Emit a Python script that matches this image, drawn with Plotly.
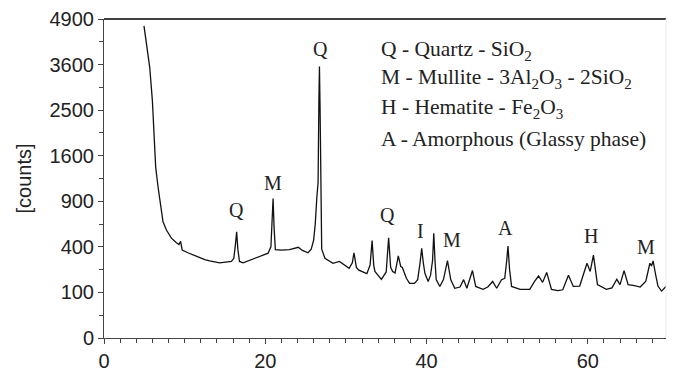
import numpy as np
import plotly.graph_objects as go

# 2-theta (degrees) and intensity (counts)
two_theta = [4.96, 5.3, 5.67, 6.0, 6.17, 6.41, 6.7, 7.03, 7.32, 7.74, 8.36, 8.98, 9.3, 9.5, 9.7,
             10.4, 11.5, 12.5, 13.1, 14.35, 15.8, 16.1, 16.3, 16.45, 16.6, 16.8, 17.25, 18.0, 18.9,
             19.6, 20.35, 20.7, 20.9, 20.97, 21.1, 21.25, 22.0, 23.0, 24.1, 24.6, 25.3, 25.7, 26.0,
             26.2, 26.4, 26.55, 26.65, 26.72, 26.8, 26.9, 27.0, 27.4, 28.4, 29.2, 29.8, 30.4, 30.8,
             31.0, 31.3, 31.6, 32.6, 33.0, 33.25, 33.45, 33.6, 34.4, 35.0, 35.3, 35.55, 35.8, 36.1,
             36.5, 36.8, 37.0, 37.5, 37.9, 38.5, 38.9, 39.2, 39.4, 39.6, 39.8, 40.2, 40.5, 40.75,
             40.9, 41.05, 41.2, 41.65, 42.1, 42.6, 43.0, 43.5, 44.15, 44.6, 45.0, 45.7, 46.1, 47.0,
             47.6, 48.2, 48.7, 49.3, 49.7, 49.95, 50.1, 50.3, 50.55, 51.6, 52.8, 53.4, 53.9, 54.4,
             54.9, 55.5, 56.3, 56.9, 57.6, 58.2, 59.0, 59.9, 60.3, 60.7, 61.2, 62.3, 63.0, 63.6,
             64.0, 64.5, 65.0, 65.8, 66.5, 67.2, 67.7, 67.9, 68.1, 68.4, 68.7, 69.15, 69.7]
counts = [4692, 4096, 3528, 2714, 2007, 1406, 1102, 829, 650, 562, 480, 437, 420, 450, 372,
          350, 320, 296, 286, 272, 282, 306, 420, 543, 380, 282, 272, 289, 306,
          324, 346, 400, 784, 936, 576, 376, 372, 376, 396, 369, 350, 380, 462,
          625, 961, 1156, 2704, 3552, 2500, 900, 380, 306, 269, 282, 256, 234, 272,
          350, 240, 222, 199, 256, 458, 256, 213, 166, 210, 484, 240, 213, 204,
          324, 246, 240, 172, 144, 144, 164, 272, 388, 272, 202, 154, 190, 289,
          529, 289, 164, 128, 164, 289, 164, 119, 125, 164, 119, 219, 128, 114,
          125, 154, 119, 164, 172, 289, 408, 225, 128, 114, 114, 154, 185, 149,
          207, 114, 108, 112, 190, 128, 130, 269, 213, 331, 137, 114, 121, 166,
          137, 219, 137, 132, 125, 156, 269, 250, 286, 196, 130, 106, 128]

# peak labels: letter, 2-theta position, label height (counts)
peak_letters = ["Q", "M", "Q", "Q", "I", "M", "A", "H", "M"]
peak_x = [16.4, 20.9, 26.85, 35.2, 39.25, 43.1, 49.8, 60.4, 67.2]
peak_y = [790, 1156, 4020, 729, 552, 458, 581, 502, 400]

legend_lines = ["Q - Quartz - SiO<sub>2</sub>",
                "M - Mullite - 3Al<sub>2</sub>O<sub>3</sub> - 2SiO<sub>2</sub>",
                "H - Hematite - Fe<sub>2</sub>O<sub>3</sub>",
                "A - Amorphous (Glassy phase)"]
legend_y = [3982, 3238, 2530, 1914]

y_tick_counts = [0, 100, 400, 900, 1600, 2500, 3600, 4900]
x_ticks = [0, 20, 40, 60]

sq = lambda v: np.sqrt(np.asarray(v, dtype=float))

fig = go.Figure()
fig.add_trace(go.Scatter(x=two_theta, y=sq(counts), mode="lines",
                         line=dict(color="#111111", width=1.3), showlegend=False,
                         hoverinfo="skip"))

for t, xv, yv in zip(peak_letters, peak_x, peak_y):
    fig.add_annotation(x=xv, y=float(np.sqrt(yv)), text=t, showarrow=False,
                       xanchor="center", yanchor="middle",
                       font=dict(family="Liberation Serif", size=20, color="#222222"))

for t, yv in zip(legend_lines, legend_y):
    fig.add_annotation(x=34.1, y=float(np.sqrt(yv)), text=t, showarrow=False,
                       xanchor="left", yanchor="middle",
                       font=dict(family="Liberation Serif", size=21.5, color="#222222"))

fig.add_shape(type="line", xref="paper", yref="paper", x0=0, x1=1, y0=1, y1=1,
              line=dict(color="black", width=1.5))
fig.add_shape(type="line", xref="paper", yref="paper", x0=1, x1=1, y0=0, y1=1,
              line=dict(color="#ececec", width=1))

# page body has an 8px default margin, so the figure is sized/offset to compensate
fig.update_layout(
    width=670, height=364,
    margin=dict(l=96, r=12, t=11, b=34),
    paper_bgcolor="white", plot_bgcolor="white",
    font=dict(family="Liberation Sans", size=20, color="#222222"),
    xaxis=dict(range=[0, 69.7], tickvals=x_ticks, ticktext=[str(v) for v in x_ticks],
               showline=True, linecolor="#444444", linewidth=1, ticks="outside",
               ticklen=5, tickcolor="#444444", showgrid=False, zeroline=False,
               automargin=False,
               minor=dict(dtick=2, tick0=0, ticks="outside", ticklen=4, tickcolor="#444444",
                          showgrid=False),
               tickfont=dict(size=20)),
    yaxis=dict(range=[0, 70], tickvals=[float(np.sqrt(v)) for v in y_tick_counts],
               ticktext=[str(v) for v in y_tick_counts],
               showline=True, linecolor="#444444", linewidth=1, ticks="outside",
               ticklen=5, tickcolor="#444444", showgrid=False, zeroline=False,
               automargin=False,
               minor=dict(dtick=5, tick0=0, ticks="outside", ticklen=4, tickcolor="#444444",
                          showgrid=False),
               tickfont=dict(size=20),
               title=dict(text="[counts]", font=dict(size=20), standoff=12)),
)

fig.write_html("out.html")
